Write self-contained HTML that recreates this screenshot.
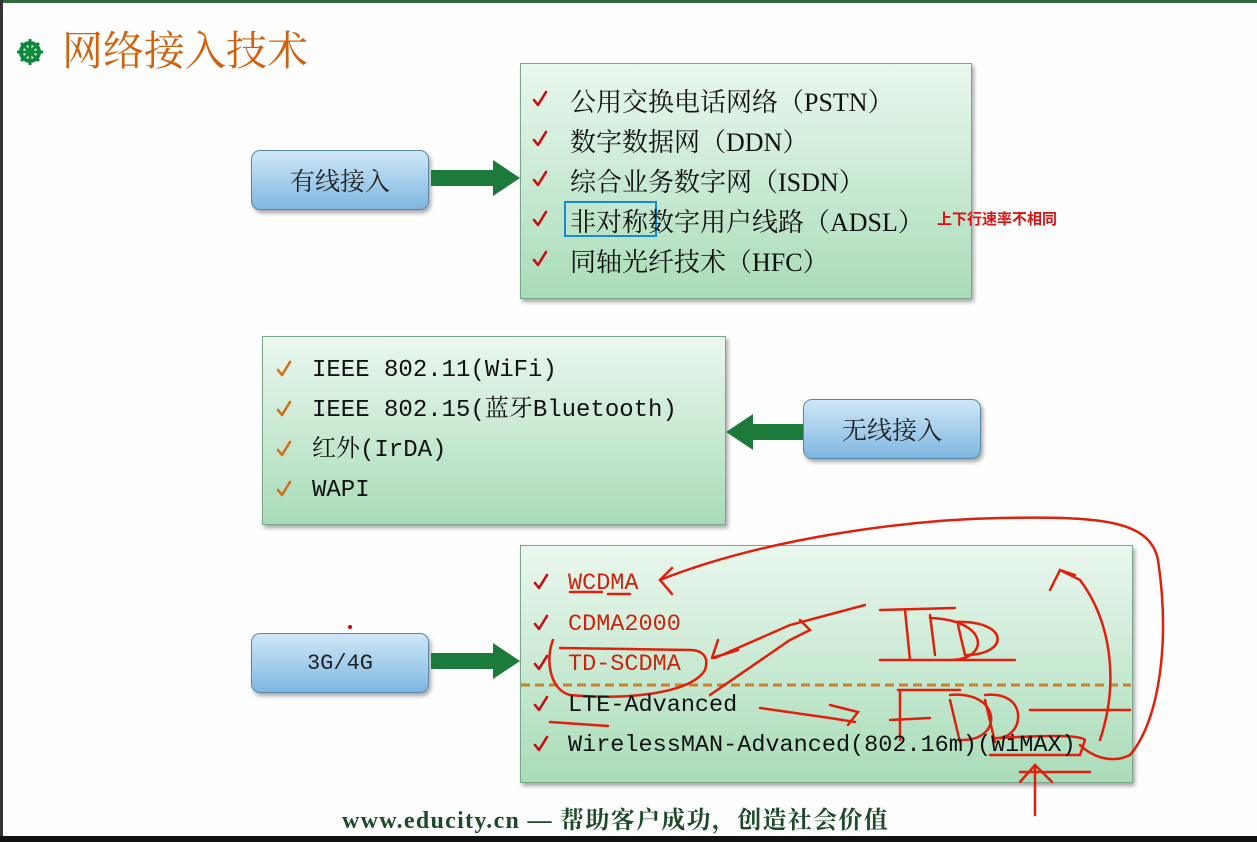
<!DOCTYPE html>
<html><head><meta charset="utf-8"><style>
body{margin:0;width:1257px;height:842px;overflow:hidden;background:#fdfefd;position:relative;font-family:"Liberation Sans","Noto Sans CJK SC",sans-serif}
.box{position:absolute;border:1px solid #7aa78a;background:linear-gradient(#eaf7ee,#a9dcb9);box-shadow:2px 3px 4px rgba(0,0,0,.35)}
.btn{position:absolute;width:176px;height:58px;border:1px solid #5a88aa;border-radius:9px;background:linear-gradient(#cfe7f7,#7fb7e1);box-shadow:2px 3px 4px rgba(0,0,0,.35);font-size:25px;color:#222;display:flex;align-items:center;justify-content:center;font-family:"Liberation Serif","Noto Serif CJK SC",serif}
.l{position:absolute;white-space:nowrap;font-size:25px;line-height:30px;color:#111;font-family:"Liberation Serif","Noto Serif CJK SC",serif}
.b1{font-size:26px}
.s{font-family:"Liberation Mono","Noto Serif CJK SC",monospace;font-size:24px}
.r{color:#c8240e}
</style></head><body>
<div style="position:absolute;left:0;top:0;width:1257px;height:3px;background:#2f6b3a"></div>
<div style="position:absolute;left:0;top:0;width:3px;height:842px;background:#333"></div>
<div style="position:absolute;left:0;top:836px;width:1257px;height:6px;background:#111"></div>
<svg style="position:absolute;left:16px;top:38px" width="28" height="28" viewBox="0 0 28 28"><circle cx="14" cy="14" r="9" fill="none" stroke="#0a8a3a" stroke-width="4"/><circle cx="14" cy="14" r="3" fill="#0a8a3a"/><g stroke="#0a8a3a" stroke-width="3"><line x1="14" y1="1" x2="14" y2="27"/><line x1="1" y1="14" x2="27" y2="14"/><line x1="5" y1="5" x2="23" y2="23"/><line x1="23" y1="5" x2="5" y2="23"/></g></svg>
<div style="position:absolute;left:62px;top:24px;color:#d2600a;font-size:41px;font-family:'Noto Serif CJK SC',serif;line-height:48px">网络接入技术</div>

<div class="box" style="left:520px;top:63px;width:450px;height:234px"></div>
<div class="box" style="left:262px;top:336px;width:462px;height:187px"></div>
<div class="box" style="left:520px;top:545px;width:611px;height:236px"></div>

<div class="btn" style="left:251px;top:150px">有线接入</div>
<div class="btn" style="left:803px;top:399px">无线接入</div>
<div class="btn" style="left:251px;top:633px;font-family:'Liberation Mono',monospace;font-size:22px">3G/4G</div>

<svg style="position:absolute;left:0;top:0" width="1257" height="842">
<defs><path id="ck" d="M0,6 L4,11 L12,-2" fill="none" stroke-width="2.6" stroke-linecap="round" stroke-linejoin="round"/></defs>
<g stroke="#c41010">
<use href="#ck" x="534" y="94"/><use href="#ck" x="534" y="134"/><use href="#ck" x="534" y="174"/><use href="#ck" x="534" y="214"/><use href="#ck" x="534" y="254"/>
<use href="#ck" x="535" y="577"/><use href="#ck" x="535" y="618"/><use href="#ck" x="535" y="658"/><use href="#ck" x="535" y="699"/><use href="#ck" x="535" y="739"/>
</g>
<g stroke="#d0701a">
<use href="#ck" x="278" y="364"/><use href="#ck" x="278" y="404"/><use href="#ck" x="278" y="444"/><use href="#ck" x="278" y="484"/>
</g>
<polygon points="431,170 493,170 493,160 520,178 493,196 493,186 431,186" fill="#1c7a3a"/>
<polygon points="803,424 753,424 753,414 726,432 753,450 753,440 803,440" fill="#1c7a3a"/>
<polygon points="431,653 493,653 493,643 520,661 493,679 493,669 431,669" fill="#1c7a3a"/>
<line x1="521" y1="685" x2="1131" y2="685" stroke="#c8822a" stroke-width="3" stroke-dasharray="9,5"/>
<rect x="565" y="202" width="91" height="34" fill="none" stroke="#1a8ad0" stroke-width="2"/>
<g fill="none" stroke="#e0200c" stroke-width="2.5" stroke-linecap="round">
<path d="M660,580 C760,540 900,520 1000,518 C1100,516 1150,520 1158,560 C1170,640 1160,720 1130,755 C1110,765 1090,755 1080,745"/>
<path d="M672,568 L660,580 L672,594"/>
<path d="M570,592 L602,592 M608,594 L630,594"/>
<path d="M1100,740 C1120,680 1110,620 1080,580 L1060,570 L1050,590 M1060,570 L1075,575"/>
<path d="M715,658 L790,625 L865,605 M712,658 L738,650 M712,658 L718,640"/>
<path d="M553,640 C545,660 550,690 570,695 C620,700 690,695 705,670 C710,655 700,650 690,650 L560,648"/>
<path d="M710,695 L790,640 L810,630 L800,620"/>
<path d="M760,708 L830,718 L855,722 M830,705 L858,712 L848,725"/>
<path d="M550,722 L608,726"/>
<path d="M880,610 L955,608 M905,610 L910,660 M930,615 L935,655 M930,618 C990,620 990,660 950,660 M958,625 L965,655 M955,622 C1010,620 1010,655 965,655 M880,660 L1015,660"/>
<path d="M898,690 L960,690 M900,690 L900,740 M890,720 L930,718 M950,700 L960,742 M950,695 C1000,690 1005,740 962,740 M985,700 L995,742 M985,695 C1030,690 1025,740 995,738 M1030,710 L1130,710"/>
<path d="M990,755 L1080,755 L1085,740 C1080,735 1050,735 1000,738 M1020,772 L1090,772"/>
<path d="M1035,815 L1035,765 M1020,782 L1035,765 L1052,782"/>
</g>
<circle cx="350" cy="627" r="2" fill="#d00"/>
</svg>

<div class="l b1" style="left:570px;top:88px">公用交换电话网络（PSTN）</div>
<div class="l b1" style="left:570px;top:128px">数字数据网（DDN）</div>
<div class="l b1" style="left:570px;top:168px">综合业务数字网（ISDN）</div>
<div class="l b1" style="left:570px;top:208px">非对称数字用户线路（ADSL）</div>
<div class="l b1" style="left:570px;top:248px">同轴光纤技术（HFC）</div>
<div style="position:absolute;left:937px;top:208px;color:#e01010;font-size:15px;font-weight:bold">上下行速率不相同</div>

<div class="l s" style="left:312px;top:356px">IEEE 802.11(WiFi)</div>
<div class="l s" style="left:312px;top:396px">IEEE 802.15(蓝牙Bluetooth)</div>
<div class="l s" style="left:312px;top:436px">红外(IrDA)</div>
<div class="l s" style="left:312px;top:476px">WAPI</div>

<div class="l s r" style="left:568px;top:569px;font-size:23.5px">WCDMA</div>
<div class="l s r" style="left:568px;top:610px;font-size:23.5px">CDMA2000</div>
<div class="l s r" style="left:568px;top:650px;font-size:23.5px">TD-SCDMA</div>
<div class="l s" style="left:568px;top:691px;font-size:23.5px">LTE-Advanced</div>
<div class="l s" style="left:568px;top:731px;font-size:23.5px">WirelessMAN-Advanced(802.16m)(WiMAX)</div>

<div style="position:absolute;left:342px;top:800px;font-size:24px;font-weight:bold;color:#1e4a2a;font-family:'Liberation Serif','Noto Serif CJK SC',serif;white-space:nowrap;letter-spacing:1.3px">www.educity.cn — 帮助客户成功，创造社会价值</div>
</body></html>
